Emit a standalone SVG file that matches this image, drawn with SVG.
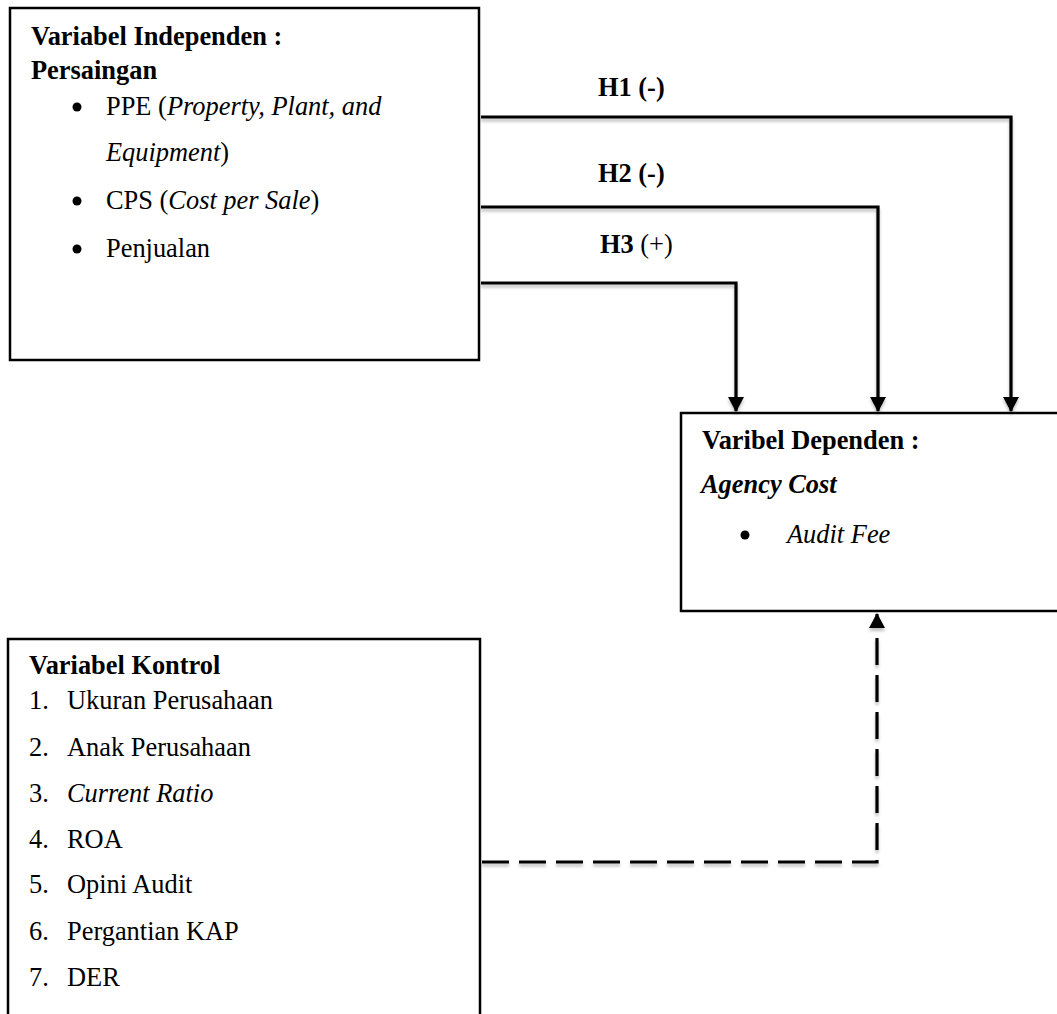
<svg xmlns="http://www.w3.org/2000/svg" width="1057" height="1014" viewBox="0 0 1057 1014">
<style>
.box{fill:#fff;stroke:#000;stroke-width:2.5}
.t{font-family:"Liberation Serif","Times New Roman",serif;font-size:26.4px;fill:#000}
.b{font-weight:bold}
.i{font-style:italic}
.conn{fill:none;stroke:#000;stroke-width:3.2;filter:url(#sh)}
.dash{stroke-dasharray:27 10}
</style>
<defs>
<filter id="sh" x="-5%" y="-50%" width="110%" height="200%">
<feDropShadow dx="0" dy="3" stdDeviation="1.5" flood-color="#000" flood-opacity="0.25"/>
</filter>
<marker id="ah" viewBox="0 0 15 16" refX="14" refY="8" markerWidth="15" markerHeight="16" markerUnits="userSpaceOnUse" orient="auto">
<path d="M0,0 L15,8 L0,16 Z" fill="#000"/>
</marker>
</defs>

<g id="independen">
<rect class="box" x="10" y="8" width="469" height="352"/>
<text class="t b" x="31" y="45">Variabel Independen :</text>
<text class="t b" x="31" y="79">Persaingan</text>
<circle cx="77" cy="107" r="4.5"/>
<text class="t" x="106" y="115">PPE (<tspan class="i">Property, Plant, and</tspan></text>
<text class="t" x="106" y="161"><tspan class="i">Equipment</tspan>)</text>
<circle cx="77" cy="201" r="4.5"/>
<text class="t" x="106" y="209">CPS (<tspan class="i">Cost per Sale</tspan>)</text>
<circle cx="77" cy="249" r="4.5"/>
<text class="t" x="106" y="257">Penjualan</text>
</g>

<g id="dependen">
<rect class="box" x="681" y="413" width="390" height="198"/>
<text class="t b" x="702" y="449">Varibel Dependen :</text>
<text class="t b i" x="701" y="493">Agency Cost</text>
<circle cx="745" cy="535" r="4.5"/>
<text class="t i" x="787" y="543">Audit Fee</text>
</g>

<g id="kontrol">
<rect class="box" x="8" y="639" width="472" height="390"/>
<text class="t b" x="29" y="674">Variabel Kontrol</text>
<text class="t" x="29" y="709">1.</text><text class="t" x="67" y="709">Ukuran Perusahaan</text>
<text class="t" x="29" y="756">2.</text><text class="t" x="67" y="756">Anak Perusahaan</text>
<text class="t" x="29" y="802">3.</text><text class="t i" x="67" y="802">Current Ratio</text>
<text class="t" x="29" y="848">4.</text><text class="t" x="67" y="848">ROA</text>
<text class="t" x="29" y="893">5.</text><text class="t" x="67" y="893">Opini Audit</text>
<text class="t" x="29" y="940">6.</text><text class="t" x="67" y="940">Pergantian KAP</text>
<text class="t" x="29" y="986">7.</text><text class="t" x="67" y="986">DER</text>
</g>

<g id="connectors">
<path class="conn" d="M481,117 H1011 V411" marker-end="url(#ah)"/>
<path class="conn" d="M481,207 H878 V411" marker-end="url(#ah)"/>
<path class="conn" d="M481,283 H736 V411" marker-end="url(#ah)"/>
<path class="conn dash" d="M482,862 H877 V614" marker-end="url(#ah)"/>
<text class="t b" x="598" y="96">H1 (-)</text>
<text class="t b" x="598" y="182">H2 (-)</text>
<text class="t" x="600" y="253"><tspan class="b">H3</tspan> (+)</text>
</g>
</svg>
